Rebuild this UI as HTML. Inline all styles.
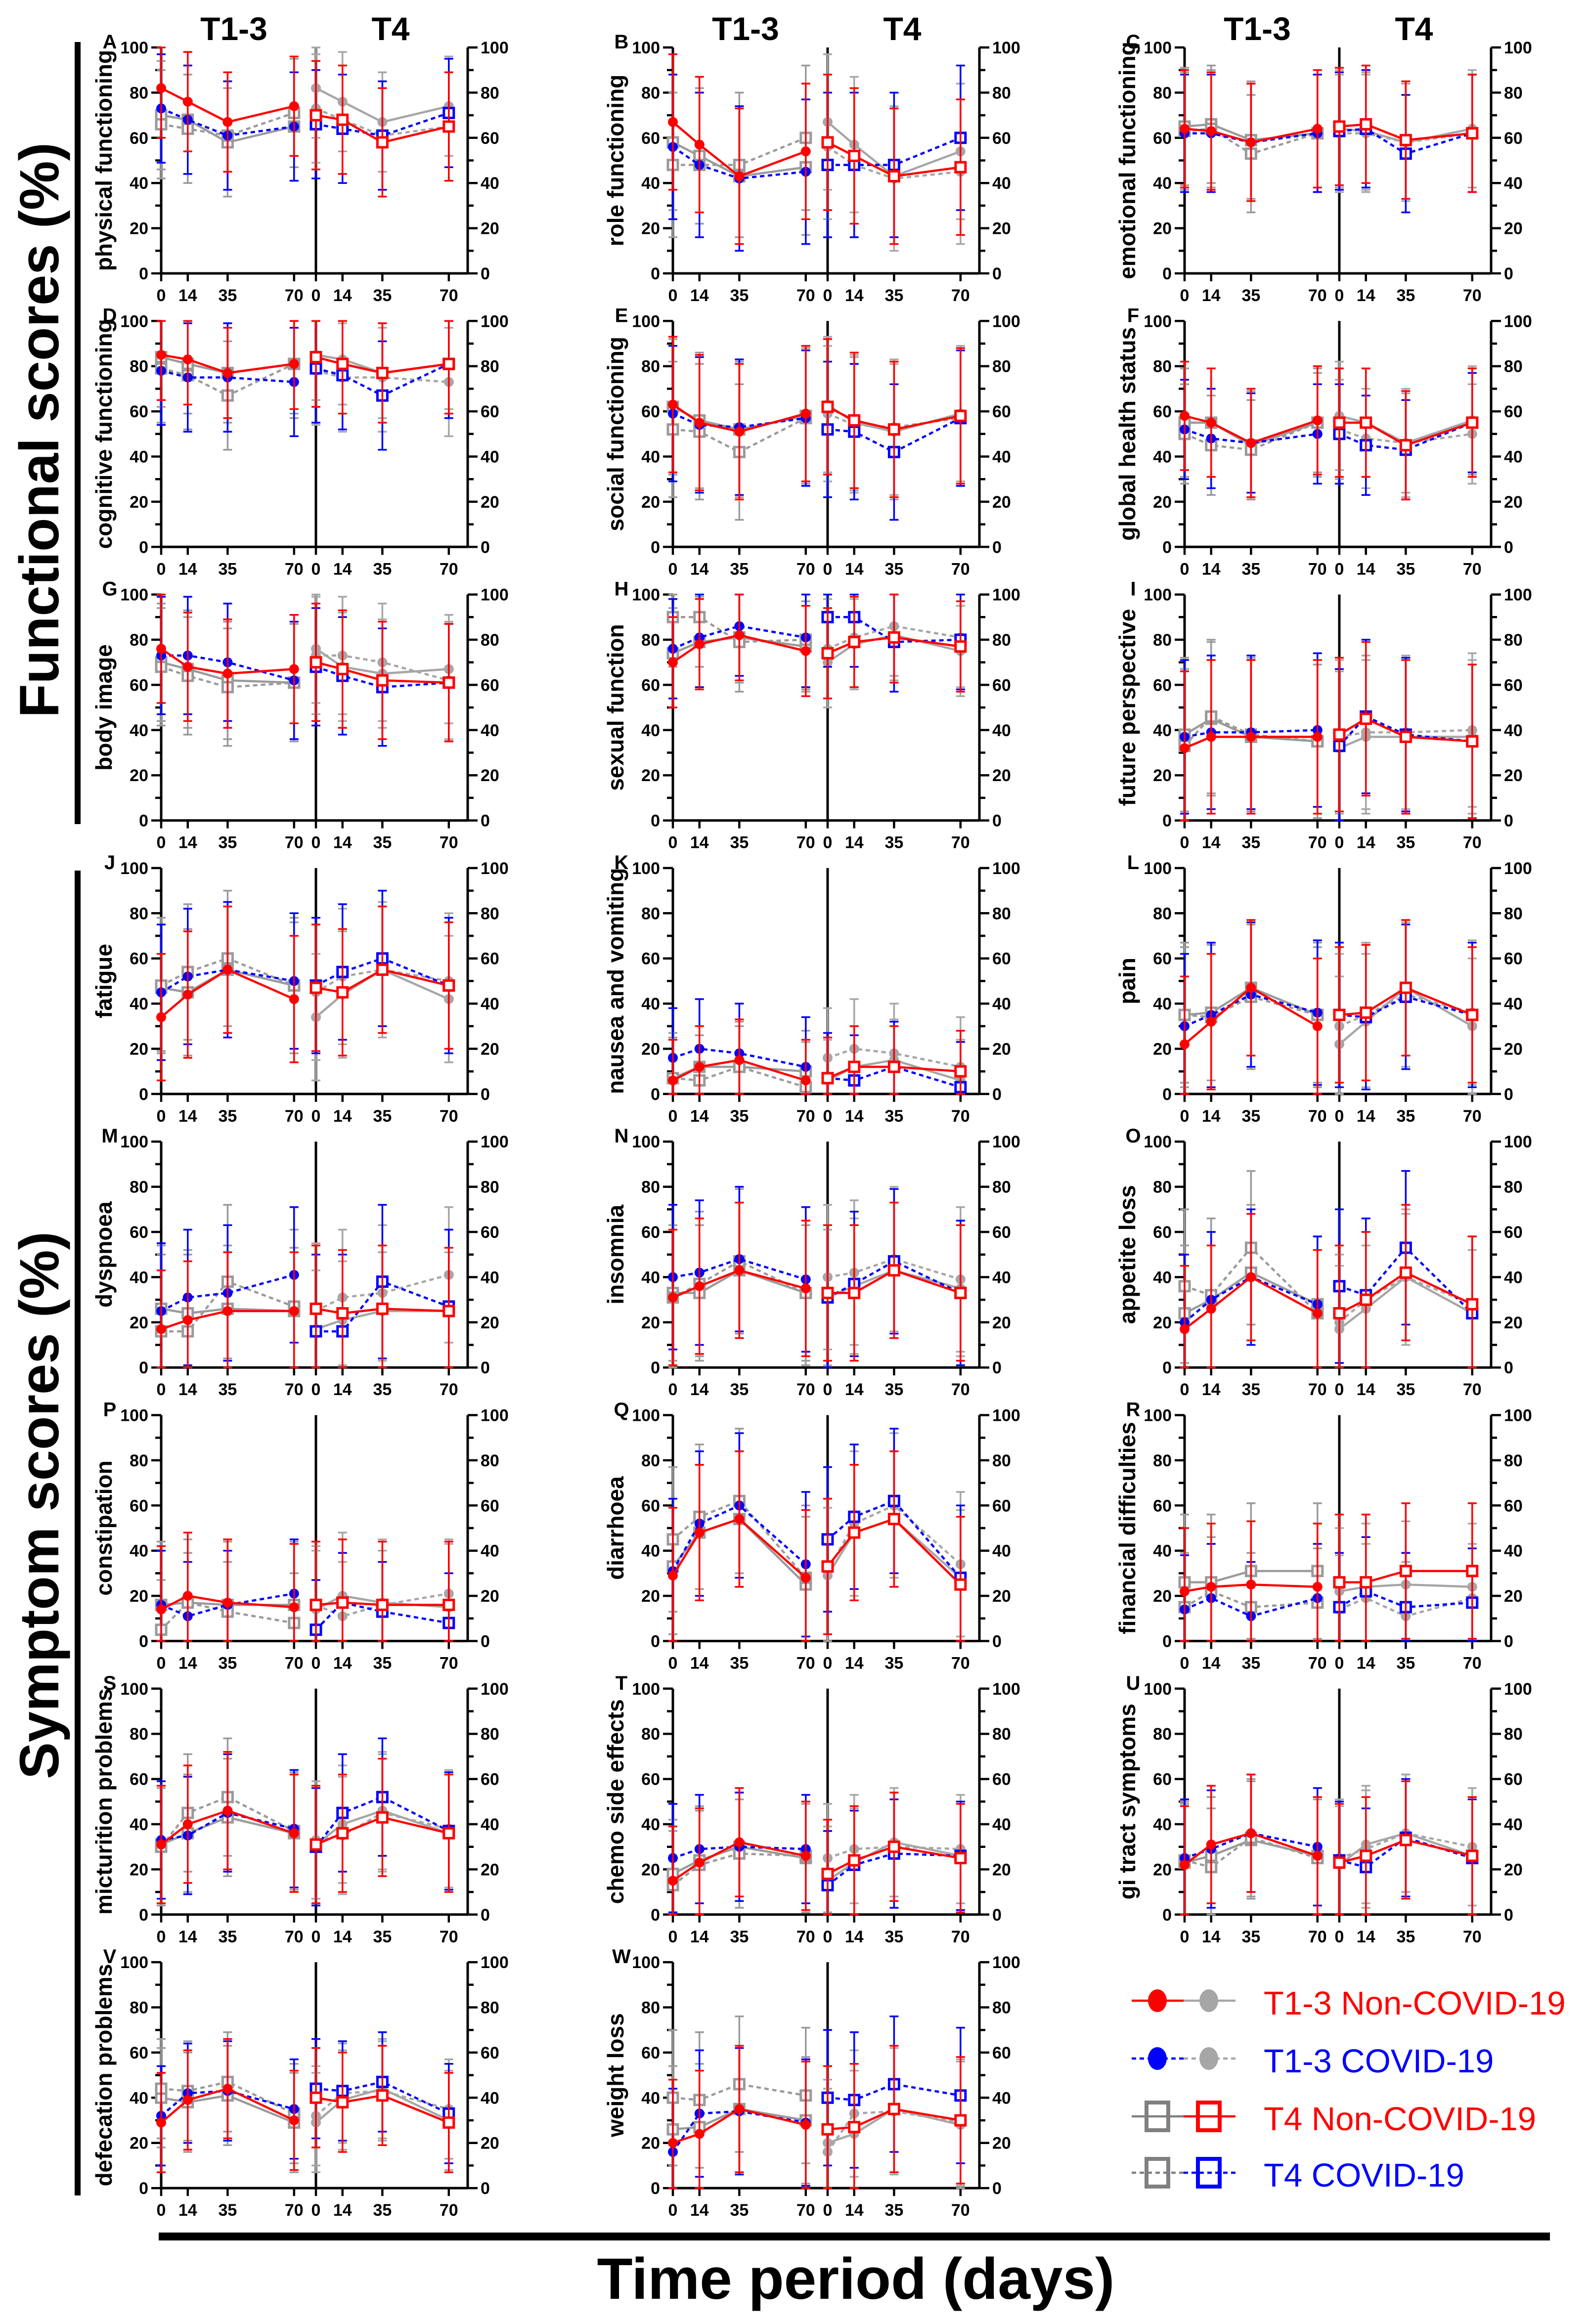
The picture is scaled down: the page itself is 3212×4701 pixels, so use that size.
<!DOCTYPE html>
<html><head><meta charset="utf-8"><style>
html,body{margin:0;padding:0;background:#fff;}
svg{display:block;font-family:"Liberation Sans Narrow","Liberation Sans",sans-serif;}
</style></head>
<body>
<svg id="fig" width="3212" height="4701" viewBox="0 0 3212 4701" xmlns="http://www.w3.org/2000/svg">
  <rect x="0" y="0" width="3212" height="4701" fill="#fff"/>
  <rect x="151" y="85" width="12" height="1582" fill="#000"/>
  <text x="0" y="0" transform="translate(118,870) rotate(-90)" text-anchor="middle" font-size="112" font-weight="bold" font-family="Liberation Sans, sans-serif">Functional scores (%)</text>
  <rect x="151" y="1761" width="12" height="2680" fill="#000"/>
  <text x="0" y="0" transform="translate(118,3045) rotate(-90)" text-anchor="middle" font-size="112" font-weight="bold" font-family="Liberation Sans, sans-serif">Symptom scores (%)</text>
  <rect x="321" y="4516" width="2814" height="16" fill="#000"/>
  <text x="1731" y="4650" text-anchor="middle" font-size="118" font-weight="bold" font-family="Liberation Sans, sans-serif">Time period (days)</text>
</svg>
<script>
const days = [0, 14, 35, 70];
const yTicks = [0, 20, 40, 60, 80, 100];
const panelLetters = ["A","B","C","D","E","F","G","H","I","J","K","L","M","N","O","P","Q","R","S","T","U","V","W"];
const panelTitles = ["physical functioning","role functioning","emotional functioning","cognitive functioning","social functioning","global health status","body image","sexual function","future perspective","fatigue","nausea and vomiting","pain","dyspnoea","insomnia","appetite loss","constipation","diarrhoea","financial difficulties","micturition problems","chemo side effects","gi tract symptoms","defecation problems","weight loss"];
const t13NonCovid = [[82,76,67,74],[67,57,43,54],[64,63,58,64],[85,83,77,81],[63,55,51,59],[58,55,46,56],[76,68,65,67],[70,78,82,75],[32,37,37,37],[34,44,55,42],[6,12,15,6],[22,32,47,30],[17,21,25,25],[31,36,43,35],[17,26,40,24],[14,20,17,15],[29,48,54,28],[22,24,25,24],[31,40,46,36],[15,23,32,26],[22,31,36,26],[29,39,44,30],[20,24,35,28]];
const t13Covid = [[73,68,61,65],[56,48,42,45],[62,62,58,62],[78,75,75,73],[59,54,53,57],[52,48,46,50],[73,73,70,62],[76,81,86,81],[37,39,39,40],[45,52,55,50],[16,20,18,12],[30,35,44,36],[25,31,33,41],[40,42,48,39],[20,30,40,28],[16,11,16,21],[31,52,60,34],[14,19,11,19],[33,35,45,38],[25,29,30,29],[25,29,36,30],[32,42,43,35],[16,33,34,29]];
const t4NonCovid = [[70,68,58,65],[58,52,43,47],[65,66,59,62],[84,81,77,81],[62,56,52,58],[55,55,45,55],[70,67,62,61],[74,79,81,77],[38,45,37,35],[47,45,55,48],[7,12,12,10],[35,36,47,35],[26,24,26,25],[33,33,43,33],[24,30,42,28],[16,17,16,16],[33,48,54,25],[26,26,31,31],[31,36,43,36],[18,24,30,25],[23,26,33,26],[40,38,41,29],[26,27,35,30]];
const t4Covid = [[66,64,61,71],[48,48,48,60],[63,64,53,62],[79,76,67,81],[52,51,42,57],[50,45,43,55],[68,64,59,61],[90,90,79,80],[33,46,38,35],[48,54,60,48],[7,6,12,3],[35,34,43,35],[16,16,38,27],[31,37,47,33],[36,32,53,24],[5,17,13,8],[45,55,62,28],[15,22,15,17],[30,45,52,37],[13,22,27,26],[24,21,34,25],[44,43,47,33],[40,39,46,41]];
const sdValues = [[22,24,24,24],[30,32,30,32],[26,26,26,26],[20,24,22,24],[30,30,30,30],[24,22,24,22],[24,26,26,26],[20,22,20,22],[34,34,34,34],[28,30,28,30],[18,22,18,20],[30,32,30,32],[26,30,28,34],[30,32,30,32],[28,30,30,34],[28,24,28,22],[30,32,30,32],[28,24,30,24],[26,26,26,26],[24,24,24,24],[26,26,26,26],[22,22,22,22],[28,28,28,30]];
const legendLabels = ["T1-3 Non-COVID-19","T1-3 COVID-19","T4 Non-COVID-19","T4 COVID-19"];

const NS = "http://www.w3.org/2000/svg";
const svg = document.getElementById("fig");
function mk(tag, attrs, parent){
  const e = document.createElementNS(NS, tag);
  for (const k in attrs) e.setAttribute(k, attrs[k]);
  parent.appendChild(e);
  return e;
}
const RED="#ff0000", BLUE="#0000ff", GRAYC="#a6a6a6", GRAYS="#9a9a9a";
const XS = 3.84, HALF = 313, WID = 620, YS = 4.57;

function drawSeries(g, vals, sd, ox, half, zero, color, dashed, marker, name){
  const xp = d => ox + (half ? HALF : 0) + d * XS;
  const yp = v => zero - Math.max(0, Math.min(100, v)) * YS;
  for (let i = 0; i < vals.length; i++){
    const x = xp(days[i]);
    const y1 = yp(vals[i] - sd), y2 = yp(vals[i] + sd);
    const eb = mk("path", {d:`M${x},${y1}V${y2}M${x-9},${y1}h18M${x-9},${y2}h18`, stroke:color, "stroke-width":3.5, fill:"none"}, g);
    
    
  }
  const pts = vals.map((v,i) => xp(days[i]) + "," + yp(v)).join(" ");
  const ln = mk("polyline", {points:pts, fill:"none", stroke:color, "stroke-width":4.5, "stroke-dasharray": dashed ? "9,7" : "none"}, g);
  
  
  for (let i = 0; i < vals.length; i++){
    const x = xp(days[i]), y = yp(vals[i]);
    let m;
    if (marker === "circle") m = mk("circle", {cx:x, cy:y, r:10, fill:color}, g);
    else m = mk("rect", {x:x-10, y:y-10, width:20, height:20, fill:"#fff", stroke:color, "stroke-width":5}, g);
    
    
  }
}

for (let p = 0; p < panelLetters.length; p++){
  const col = p % 3, row = Math.floor(p / 3);
  const ox = 326 + 1035 * col;
  const zero = 553 + 553.3 * row;
  const top = zero - 100 * YS;
  const g = mk("g", {}, svg);
  
  

  if (row === 0){
    const h1 = mk("text", {x:ox+147, y:81, "text-anchor":"middle", "font-size":66, "font-weight":"bold"}, g);
    h1.textContent = "T1-3";
    
    
    const h2 = mk("text", {x:ox+464, y:81, "text-anchor":"middle", "font-size":66, "font-weight":"bold"}, g);
    h2.textContent = "T4";
    
    
  }
  const lt = mk("text", {x:ox-104, y:top+2, "text-anchor":"middle", "font-size":40, "font-weight":"bold", "font-family":"Liberation Sans, sans-serif"}, g);
  lt.textContent = panelLetters[p];
  
  
  const yt = mk("text", {x:0, y:0, transform:`translate(${ox-100},${(top+zero)/2}) rotate(-90)`, "text-anchor":"middle", "font-size":46, "font-weight":"bold", "font-family":"Liberation Sans, sans-serif"}, g);
  yt.textContent = panelTitles[p];
  
  

  const ax = mk("path", {d:`M${ox},${top}V${zero}H${ox+HALF}M${ox+HALF},${top}V${zero}H${ox+WID}M${ox+WID},${top}V${zero}`, stroke:"#000", "stroke-width":5, fill:"none"}, g);
  
  
  for (let v = 0; v <= 100; v += 10){
    const y = zero - v * YS, major = v % 20 === 0;
    const tk = mk("path", {d:`M${ox},${y}h${major?-20:-12}M${ox+WID},${y}h${major?20:12}`, stroke:"#000", "stroke-width":4.5}, g);
    
    
  }
  yTicks.forEach(v => {
    const y = zero - v * YS;
    const a = mk("text", {x:ox-26, y:y+12, "text-anchor":"end", "font-size":34, "font-weight":"bold"}, g);
    a.textContent = v;
    
    
    const b = mk("text", {x:ox+WID+26, y:y+12, "text-anchor":"start", "font-size":34, "font-weight":"bold"}, g);
    b.textContent = v;
    
    
  });
  [0,1].forEach(h => days.forEach(d => {
    const x = ox + (h ? HALF : 0) + d * XS;
    const tk = mk("path", {d:`M${x},${zero}v16`, stroke:"#000", "stroke-width":4.5}, g);
    
    
    const t = mk("text", {x:x, y:zero+56, "text-anchor":"middle", "font-size":34, "font-weight":"bold"}, g);
    t.textContent = d;
    
    
  }));

  const sd = sdValues[p];
  drawSeries(g, t4NonCovid[p], sd[2], ox, 0, zero, GRAYS, false, "square", "gray-t4-noncovid");
  drawSeries(g, t4Covid[p], sd[3], ox, 0, zero, GRAYS, true, "square", "gray-t4-covid");
  drawSeries(g, t13Covid[p], sd[1], ox, 0, zero, BLUE, true, "circle", "t13-covid");
  drawSeries(g, t13NonCovid[p], sd[0], ox, 0, zero, RED, false, "circle", "t13-noncovid");
  drawSeries(g, t13NonCovid[p], sd[0], ox, 1, zero, GRAYC, false, "circle", "gray-t13-noncovid");
  drawSeries(g, t13Covid[p], sd[1], ox, 1, zero, GRAYC, true, "circle", "gray-t13-covid");
  drawSeries(g, t4Covid[p], sd[3], ox, 1, zero, BLUE, true, "square", "t4-covid");
  drawSeries(g, t4NonCovid[p], sd[2], ox, 1, zero, RED, false, "square", "t4-noncovid");
}

const lg = mk("g", {}, svg);


const legendY = [4047, 4164, 4281, 4395];
const legendColors = [[RED,GRAYC],[BLUE,GRAYC],["#808080",RED],["#808080",BLUE]];
const legendText = [RED, BLUE, RED, BLUE];
for (let i = 0; i < 4; i++){
  const y = legendY[i], dashed = i % 2 === 1, sq = i >= 2;
  const c1 = legendColors[i][0], c2 = legendColors[i][1];
  const l1 = mk("line", {x1:2289, y1:y, x2:2394, y2:y, stroke:c1, "stroke-width":4.5, "stroke-dasharray": dashed ? "9,7" : "none"}, lg);
  
  
  const l2 = mk("line", {x1:2394, y1:y, x2:2499, y2:y, stroke:c2, "stroke-width":4.5, "stroke-dasharray": dashed ? "9,7" : "none"}, lg);
  
  
  [[2341,c1],[2445,c2]].forEach(([x,c]) => {
    let m;
    if (!sq) m = mk("ellipse", {cx:x, cy:y, rx:19, ry:23, fill:c}, lg);
    else m = mk("rect", {x:x-22, y:y-28, width:44, height:56, fill:"none", stroke:c, "stroke-width":8}, lg);
    
    
  });
  const t = mk("text", {x:2556, y:y+28, "font-size":67, fill:legendText[i], "font-family":"Liberation Sans, sans-serif"}, lg);
  t.textContent = legendLabels[i];
  
  
}
</script>
</body></html>
